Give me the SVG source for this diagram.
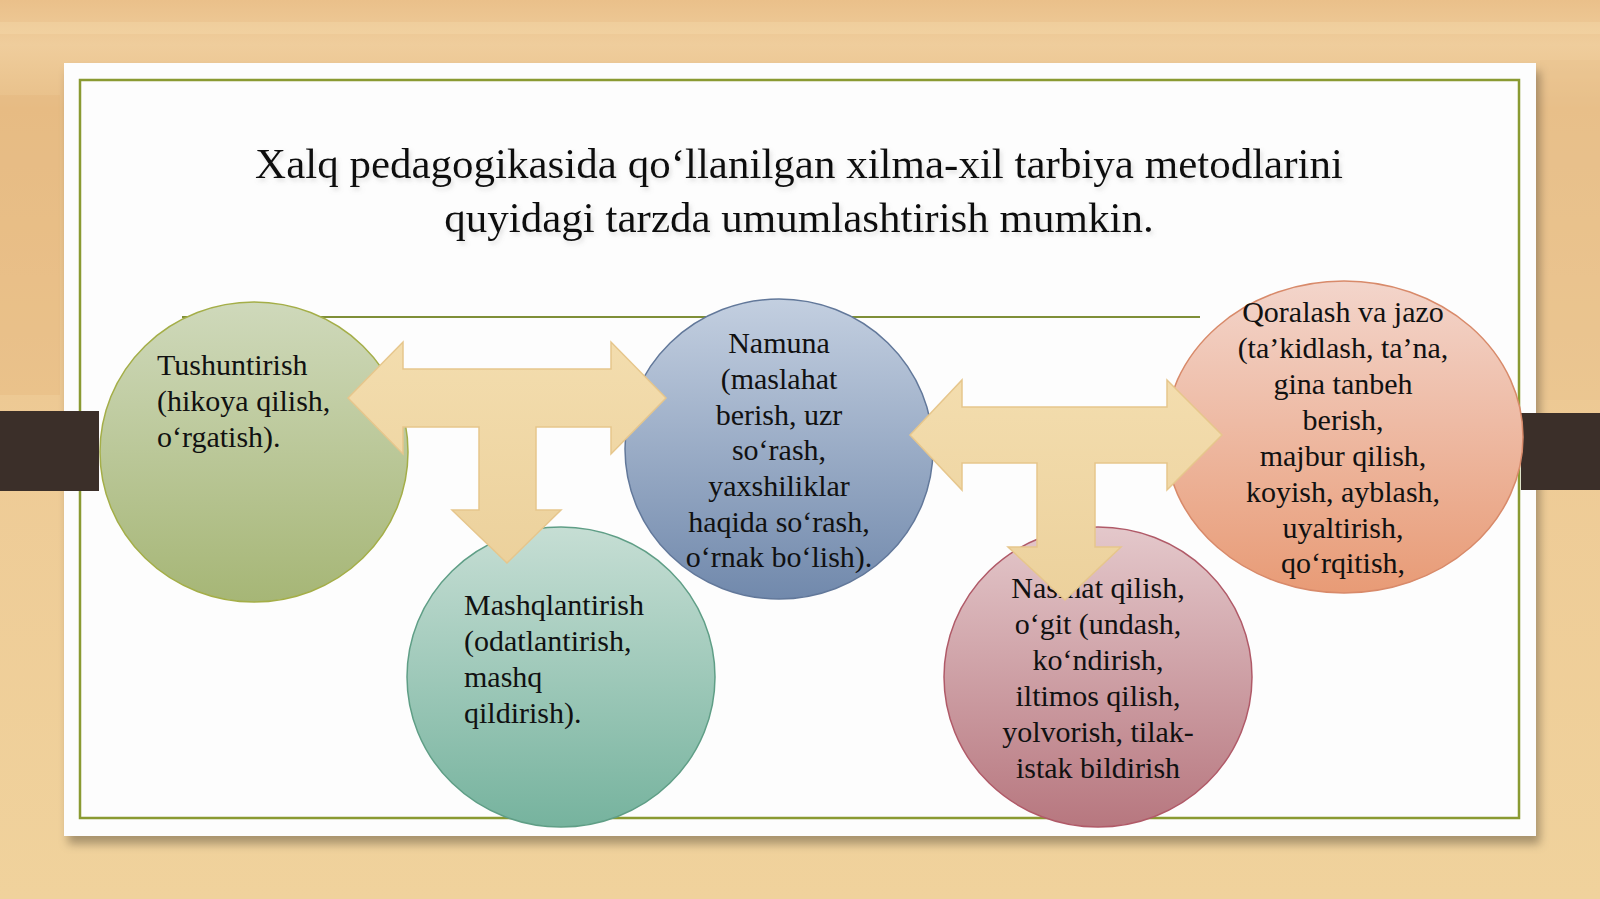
<svg xmlns="http://www.w3.org/2000/svg" width="1600" height="899" viewBox="0 0 1600 899">
<defs>
<linearGradient id="wood" x1="0" y1="0" x2="0" y2="1">
<stop offset="0" stop-color="#eac08a"/>
<stop offset="0.05" stop-color="#efcd9c"/>
<stop offset="0.12" stop-color="#e8bf88"/>
<stop offset="0.5" stop-color="#eecb96"/>
<stop offset="1" stop-color="#f0d29c"/>
</linearGradient>
<linearGradient id="g1" x1="0" y1="0" x2="0" y2="1"><stop offset="0" stop-color="#cfd9bb"/><stop offset="1" stop-color="#a6b676"/></linearGradient>
<linearGradient id="g2" x1="0" y1="0" x2="0" y2="1"><stop offset="0" stop-color="#c6ded4"/><stop offset="1" stop-color="#76b39e"/></linearGradient>
<linearGradient id="g3" x1="0" y1="0" x2="0" y2="1"><stop offset="0" stop-color="#c3cfe0"/><stop offset="1" stop-color="#7189ac"/></linearGradient>
<linearGradient id="g4" x1="0" y1="0" x2="0" y2="1"><stop offset="0" stop-color="#e4c8cb"/><stop offset="1" stop-color="#b7777f"/></linearGradient>
<linearGradient id="g5" x1="0" y1="0" x2="0" y2="1"><stop offset="0" stop-color="#f3d5cb"/><stop offset="1" stop-color="#e89b76"/></linearGradient>
<linearGradient id="ga" x1="0" y1="0" x2="0" y2="1"><stop offset="0" stop-color="#f3ddae"/><stop offset="1" stop-color="#ecd19c"/></linearGradient>
<filter id="shadow" x="-5%" y="-5%" width="110%" height="115%"><feDropShadow dx="4" dy="8" stdDeviation="5" flood-color="#000" flood-opacity="0.3"/></filter>
<filter id="tsh" x="-5%" y="-20%" width="110%" height="150%"><feDropShadow dx="2" dy="3" stdDeviation="2" flood-color="#999" flood-opacity="0.3"/></filter>
<style>
.t{font-family:"Liberation Serif","Times New Roman",serif;fill:#111;}
.title{font-size:43px;text-anchor:middle;}
.n{font-size:30px;}
.c{text-anchor:middle;}
.bar{fill:#3b2f29;}
.arrow{fill:url(#ga);stroke:#e6c68c;stroke-width:1.5;}
</style>
</defs>
<rect width="1600" height="899" fill="url(#wood)"/>
<rect x="0" y="22" width="1600" height="12" fill="#f5dcb0" opacity="0.35"/>
<rect x="0" y="95" width="60" height="300" fill="#e4b47c" opacity="0.35"/>
<rect x="1540" y="60" width="60" height="340" fill="#e8c08c" opacity="0.35"/>
<g id="panel">
<rect x="64" y="63" width="1472" height="773" fill="#fdfdfd" filter="url(#shadow)"/>
<rect x="80" y="80" width="1439" height="738" fill="none" stroke="#8a9a32" stroke-width="2.5"/>
<line x1="182" y1="317" x2="1200" y2="317" stroke="#7f8f38" stroke-width="2"/>
</g>
<g id="bars">
<rect class="bar" x="0" y="411" width="99" height="80"/>
<rect class="bar" x="1521" y="413" width="79" height="77"/>
</g>
<g id="title">
<text class="t title" x="799" y="178" filter="url(#tsh)">Xalq pedagogikasida qo‘llanilgan xilma-xil tarbiya metodlarini</text>
<text class="t title" x="799" y="232" filter="url(#tsh)">quyidagi tarzda umumlashtirish mumkin.</text>
</g>
<g id="node1">
<ellipse cx="254" cy="452" rx="154" ry="150" fill="url(#g1)" stroke="#a4ae48" stroke-width="1.5"/>
<text class="t n"><tspan x="157" y="375">Tushuntirish</tspan><tspan x="157" y="411">(hikoya qilish,</tspan><tspan x="157" y="447">o‘rgatish).</tspan></text>
</g>
<g id="node2">
<ellipse cx="561" cy="677" rx="154" ry="150" fill="url(#g2)" stroke="#5f9e86" stroke-width="1.5"/>
<text class="t n"><tspan x="464" y="615">Mashqlantirish</tspan><tspan x="464" y="651">(odatlantirish,</tspan><tspan x="464" y="687">mashq</tspan><tspan x="464" y="723">qildirish).</tspan></text>
</g>
<g id="node3">
<ellipse cx="779" cy="449" rx="154" ry="150" fill="url(#g3)" stroke="#62789a" stroke-width="1.5"/>
<text class="t n c"><tspan x="779" y="353">Namuna</tspan><tspan x="779" y="389">(maslahat</tspan><tspan x="779" y="425">berish, uzr</tspan><tspan x="779" y="460">so‘rash,</tspan><tspan x="779" y="496">yaxshiliklar</tspan><tspan x="779" y="532">haqida so‘rash,</tspan><tspan x="779" y="567">o‘rnak bo‘lish).</tspan></text>
</g>
<g id="node4">
<ellipse cx="1098" cy="677" rx="154" ry="150" fill="url(#g4)" stroke="#b05a68" stroke-width="1.5"/>
<text class="t n c"><tspan x="1098" y="598">Nasihat qilish,</tspan><tspan x="1098" y="634">o‘git (undash,</tspan><tspan x="1098" y="670">ko‘ndirish,</tspan><tspan x="1098" y="706">iltimos qilish,</tspan><tspan x="1098" y="742">yolvorish, tilak-</tspan><tspan x="1098" y="778">istak bildirish</tspan></text>
</g>
<g id="node5">
<ellipse cx="1344" cy="437" rx="179" ry="156" fill="url(#g5)" stroke="#d88a6a" stroke-width="1.5"/>
<text class="t n c"><tspan x="1343" y="322">Qoralash va jazo</tspan><tspan x="1343" y="358">(ta’kidlash, ta’na,</tspan><tspan x="1343" y="394">gina tanbeh</tspan><tspan x="1343" y="430">berish,</tspan><tspan x="1343" y="466">majbur qilish,</tspan><tspan x="1343" y="502">koyish, ayblash,</tspan><tspan x="1343" y="538">uyaltirish,</tspan><tspan x="1343" y="573">qo‘rqitish,</tspan></text>
</g>
<g id="connectors">
<path class="arrow" d="M348,398 L403,342 L403,369 L611,369 L611,342 L666,398 L611,454 L611,427 L536,427 L536,510 L561,510 L507,563 L452,510 L479,510 L479,427 L403,427 L403,454 Z"/>
<path class="arrow" d="M910,435 L962,380 L962,407 L1167,407 L1167,380 L1222,435 L1167,490 L1167,463 L1095,463 L1095,547 L1121,547 L1065,600 L1008,547 L1037,547 L1037,463 L962,463 L962,490 Z"/>
</g>
</svg>
